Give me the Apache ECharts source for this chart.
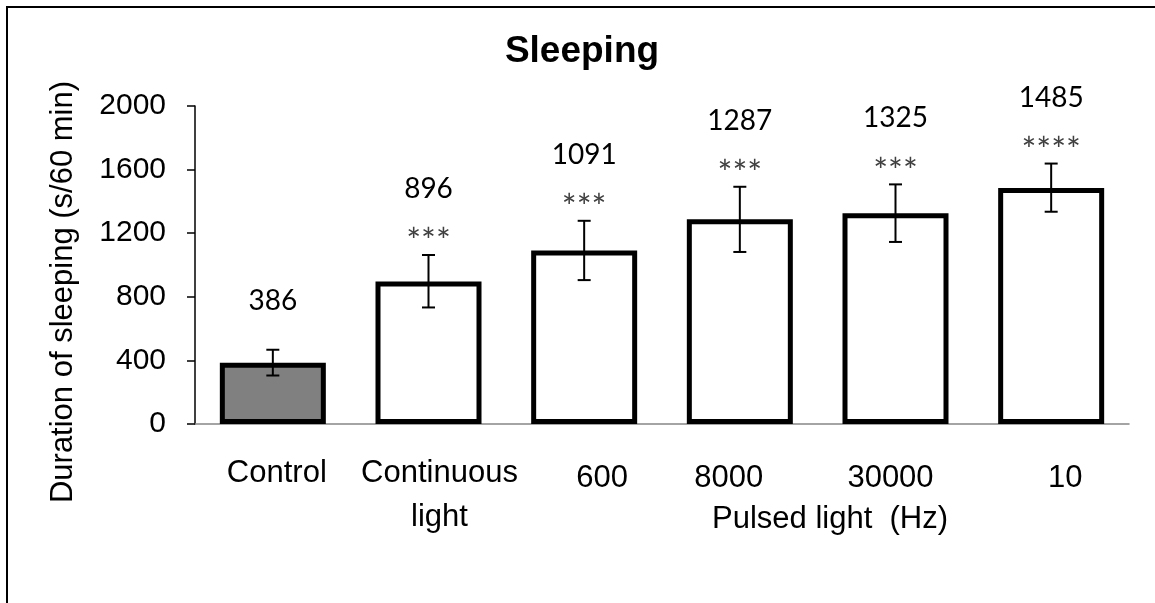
<!DOCTYPE html>
<html>
<head>
<meta charset="utf-8">
<script src="https://cdn.jsdelivr.net/npm/echarts@6/dist/echarts.min.js"></script>
<style>
html,body{margin:0;padding:0;background:#fff;}
#chart{width:1155px;height:603px;}
</style>
</head>
<body>
<div id="chart"></div>
<script>
// ---- data ----
const categories = ['Control', 'Continuous\nlight', '600', '8000', '30000', '10'];
const means = [386, 896, 1091, 1287, 1325, 1485];
const errLow = [305, 733, 905, 1082, 1145, 1335];
const errHigh = [467, 1063, 1278, 1492, 1507, 1638];
const stars = ['', '***', '***', '***', '***', '****'];
const yTicks = { min: 0, max: 2000, interval: 400 };

// ---- styles ----
const axisFont = 'Liberation Sans, Arial, sans-serif';
const calFont = 'Lato, Open Sans, sans-serif';
const labelShift = [
  { padding: [0, 0, 0, 8] },
  { padding: [0, 0, 0, 22] },
  { padding: [11, 0, 0, 36] },
  { padding: [11, 22, 0, 0] },
  { padding: [11, 10, 0, 0] },
  { padding: [11, 0, 0, 28] }
];
const rich = {};
labelShift.forEach((s, i) => {
  rich['s' + i] = Object.assign({ fontSize: 31, fontFamily: axisFont, color: '#000', lineHeight: 44 }, s);
});

const barData = means.map((v, i) => ({
  value: v,
  itemStyle: { color: i === 0 ? '#808080' : '#ffffff' }
}));
const errData = means.map((v, i) => [i, errLow[i], errHigh[i], v]);

const chart = echarts.init(document.getElementById('chart'));
chart.setOption({
  backgroundColor: '#ffffff',
  animation: false,
  title: {
    text: 'Sleeping',
    left: 577,
    top: 28,
    textAlign: 'center',
    textStyle: { fontFamily: axisFont, fontWeight: 'bold', fontSize: 37, color: '#000' }
  },
  grid: { left: 195, right: 26, top: 106, bottom: 179, containLabel: false },
  xAxis: {
    type: 'category',
    data: categories,
    name: 'Pulsed light  (Hz)',
    nameLocation: 'middle',
    nameGap: 80,
    nameMoveOverlap: false,
    nameTextStyle: { fontFamily: axisFont, fontSize: 31, color: '#000', padding: [0, 0, 0, 336] },
    axisLine: { lineStyle: { color: '#868686', width: 1.5 } },
    axisTick: { show: false },
    axisLabel: {
      interval: 0,
      margin: 27,
      verticalAlign: 'top',
      rich: rich,
      formatter: function (val, idx) {
        return val.split('\n').map(l => '{s' + idx + '|' + l + '}').join('\n');
      }
    },
    splitLine: { show: false }
  },
  yAxis: {
    type: 'value',
    min: yTicks.min,
    max: yTicks.max,
    interval: yTicks.interval,
    name: 'Duration of sleeping (s/60 min)',
    nameLocation: 'middle',
    nameGap: 116,
    nameMoveOverlap: false,
    nameTextStyle: { fontFamily: axisFont, fontSize: 31, color: '#000', padding: [0, 54, 0, 0] },
    axisLine: { show: true, lineStyle: { color: '#000', width: 1.5 } },
    axisTick: { show: true, length: 8, lineStyle: { color: '#000', width: 1.5 } },
    axisLabel: { fontFamily: axisFont, fontSize: 30, color: '#000', margin: 29, formatter: v => String(v) },
    splitLine: { show: false }
  },
  series: [
    {
      type: 'bar',
      data: barData,
      barWidth: 106,
      itemStyle: { borderColor: '#000', borderWidth: 5 },
      z: 2
    },
    {
      type: 'custom',
      data: errData,
      z: 5,
      clip: false,
      renderItem: function (params, api) {
        const i = api.value(0);
        const pLo = api.coord([i, api.value(1)]);
        const pHi = api.coord([i, api.value(2)]);
        const x = pLo[0];
        const cap = 6.5;
        const ls = { stroke: '#000', lineWidth: 2 };
        const children = [
          { type: 'line', shape: { x1: x, y1: pLo[1], x2: x, y2: pHi[1] }, style: ls },
          { type: 'line', shape: { x1: x - cap, y1: pLo[1], x2: x + cap, y2: pLo[1] }, style: ls },
          { type: 'line', shape: { x1: x - cap, y1: pHi[1], x2: x + cap, y2: pHi[1] }, style: ls }
        ];
        const st = stars[params.dataIndex];
        let valueY;
        if (st) {
          const sy = pHi[1] - 22;
          children.push({
            type: 'text',
            style: { text: st, x: x, y: sy + 9, align: 'center', verticalAlign: 'middle', fontFamily: calFont, fontSize: 35, fill: '#404040' }
          });
          valueY = sy - 44;
        } else {
          valueY = pHi[1] - 49;
        }
        children.push({
          type: 'text',
          style: { text: String(api.value(3)), x: x, y: valueY, align: 'center', verticalAlign: 'middle', fontFamily: calFont, fontSize: 28, fill: '#000' }
        });
        return { type: 'group', children: children };
      }
    }
  ],
  graphic: [
    {
      type: 'rect',
      shape: { x: 7, y: 7, width: 2000, height: 2000 },
      style: { fill: 'none', stroke: '#000', lineWidth: 2 },
      silent: true,
      z: 100
    }
  ]
});
</script>
</body>
</html>
